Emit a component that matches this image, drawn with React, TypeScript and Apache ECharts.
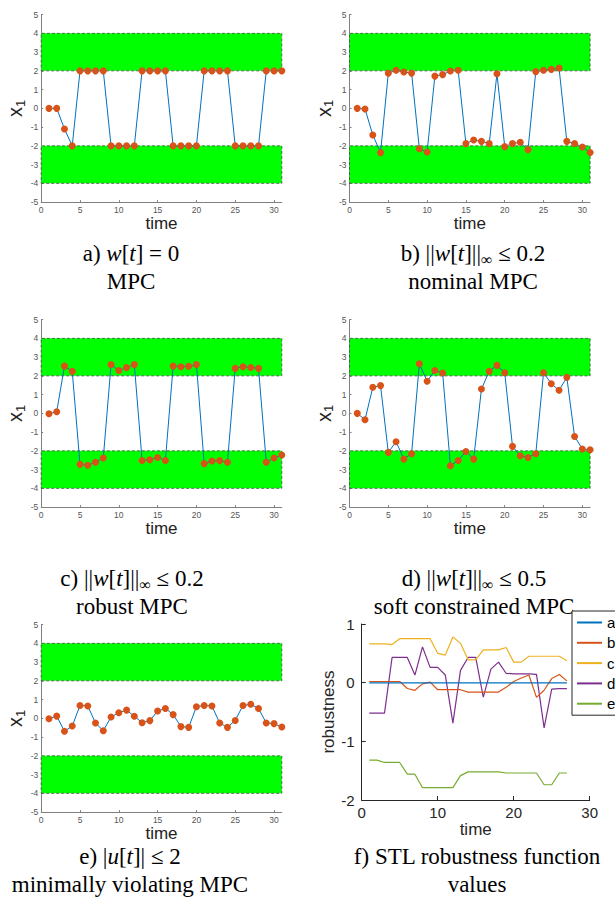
import React, { useEffect, useRef } from 'react';
import * as echarts from 'echarts';

// ---------- data ----------
const timeSteps = [1, 2, 3, 4, 5, 6, 7, 8, 9, 10, 11, 12, 13, 14, 15, 16, 17, 18, 19, 20, 21, 22, 23, 24, 25, 26, 27, 28, 29, 30, 31];

const x1MPC = [0, 0, -1.1, -2, 2, 2, 2, 2, -2, -2, -2, -2, 2, 2, 2, 2, -2, -2, -2, -2, 2, 2, 2, 2, -2, -2, -2, -2, 2, 2, 2];
const x1Nominal = [0, -0.03, -1.42, -2.36, 1.87, 2.03, 1.94, 1.88, -2.15, -2.33, 1.72, 1.8, 1.99, 2.03, -1.88, -1.69, -1.76, -1.88, 1.85, -2.04, -1.88, -1.81, -2.2, 1.96, 2.03, 2.08, 2.15, -1.76, -1.87, -2.06, -2.35];
const x1Robust = [-0.02, 0.09, 2.52, 2.24, -2.72, -2.77, -2.61, -2.38, 2.6, 2.29, 2.44, 2.6, -2.51, -2.47, -2.35, -2.51, 2.52, 2.49, 2.51, 2.6, -2.68, -2.54, -2.52, -2.61, 2.4, 2.49, 2.45, 2.4, -2.61, -2.38, -2.22];
const x1Soft = [0, -0.34, 1.39, 1.48, -2.08, -1.51, -2.44, -2.15, 2.65, 1.71, 2.29, 2.15, -2.79, -2.51, -2.03, -2.44, 1.3, 2.24, 2.56, 2.17, -1.76, -2.26, -2.35, -2.15, 2.17, 1.58, 1.23, 1.92, -1.23, -1.9, -1.94];
const x1MinViol = [-0.02, 0.12, -0.69, -0.41, 0.69, 0.66, -0.25, -0.66, 0.07, 0.3, 0.44, 0.11, -0.23, -0.12, 0.39, 0.53, 0.2, -0.44, -0.48, 0.62, 0.69, 0.66, -0.25, -0.48, -0.11, 0.69, 0.75, 0.53, -0.25, -0.28, -0.46];

const bandUpper = [2, 4];
const bandLower = [-4, -2];
const bandTime = [0, 31];

const robTime = [1, 2, 3, 4, 5, 6, 7, 8, 9, 10, 11, 12, 13, 14, 15, 16, 17, 18, 19, 20, 21, 22, 23, 24, 25, 26, 27];
const robA = [-0.005, -0.005, -0.005, -0.005, -0.005, -0.005, -0.005, -0.005, -0.005, -0.005, -0.005, -0.005, -0.005, -0.005, -0.005, -0.005, -0.005, -0.005, -0.005, -0.005, -0.005, -0.005, -0.005, -0.005, -0.005, -0.005, -0.005];
const robB = [0.02, 0.02, 0.02, 0.02, 0.02, -0.1, -0.13, -0.02, 0.01, -0.12, -0.12, -0.12, -0.12, -0.16, -0.16, -0.16, -0.16, -0.16, -0.08, 0.02, 0.08, 0.13, -0.25, -0.13, 0.07, 0.14, 0.03];
const robC = [0.66, 0.66, 0.66, 0.65, 0.75, 0.75, 0.75, 0.75, 0.75, 0.5, 0.47, 0.78, 0.67, 0.39, 0.39, 0.56, 0.56, 0.56, 0.6, 0.35, 0.35, 0.45, 0.45, 0.45, 0.45, 0.45, 0.375];
const robD = [-0.52, -0.52, -0.52, 0.43, 0.43, 0.43, 0.13, 0.61, 0.26, 0.26, 0.13, -0.69, 0.21, 0.43, 0.43, -0.245, 0.23, 0.35, 0.16, 0.15, 0.15, 0.15, 0.14, -0.77, -0.11, -0.1, -0.1];
const robE = [-1.32, -1.32, -1.36, -1.36, -1.36, -1.56, -1.56, -1.79, -1.79, -1.79, -1.79, -1.79, -1.585, -1.52, -1.52, -1.52, -1.52, -1.52, -1.54, -1.54, -1.54, -1.54, -1.54, -1.74, -1.74, -1.54, -1.54];
const robNames = ['a', 'b', 'c', 'd', 'e'];

const xTicksLabel = 'time';
const yLabelStates = 'x';
const yLabelSub = '1';
const robYLabel = 'robustness';

// ---------- layout / styles ----------
const panels = [
  { left: 41.2, top: 14.6, data: x1MPC },
  { left: 349.5, top: 14.6, data: x1Nominal },
  { left: 41.2, top: 319.6, data: x1Robust },
  { left: 349.5, top: 319.6, data: x1Soft },
  { left: 41.2, top: 624.6, data: x1MinViol },
];
const panelW = 240.6;
const panelH = 187.5;
const robGrid = { left: 361.7, top: 624, width: 228, height: 176 };
const matlabColors = ['#0072BD', '#D95319', '#EDB120', '#7E2F8E', '#77AC30'];

const serif = 'Liberation Serif';
const sans = 'Liberation Sans';
const CAP = 23;

const capRich = {
  n: { fontFamily: serif, fontSize: CAP, color: '#000', lineHeight: 28 },
  i: { fontFamily: serif, fontSize: CAP, fontStyle: 'italic', color: '#000', lineHeight: 28 },
  s: { fontFamily: serif, fontSize: 16, color: '#000', lineHeight: 16, padding: [12, 0, 0, 0] },
};

const captions = [
  { x: 131, y: 253, text: '{n|a) }{i|w}{n|[}{i|t}{n|] = 0}' },
  { x: 131, y: 281, text: '{n|MPC}' },
  { x: 473, y: 253, text: '{n|b) ||}{i|w}{n|[}{i|t}{n|]||}{s|∞}{n| ≤ 0.2}' },
  { x: 473, y: 281, text: '{n|nominal MPC}' },
  { x: 132, y: 578, text: '{n|c) ||}{i|w}{n|[}{i|t}{n|]||}{s|∞}{n| ≤ 0.2}' },
  { x: 132, y: 606, text: '{n|robust MPC}' },
  { x: 474, y: 578, text: '{n|d) ||}{i|w}{n|[}{i|t}{n|]||}{s|∞}{n| ≤ 0.5}' },
  { x: 474, y: 606, text: '{n|soft constrained MPC}' },
  { x: 130, y: 856, text: '{n|e) |}{i|u}{n|[}{i|t}{n|]| ≤ 2}' },
  { x: 130, y: 884, text: '{n|minimally violating MPC}' },
  { x: 477, y: 856, text: '{n|f) STL robustness function}' },
  { x: 477, y: 884, text: '{n|values}' },
];

function buildOption() {
  const grid: any[] = [];
  const xAxis: any[] = [];
  const yAxis: any[] = [];
  const series: any[] = [];

  panels.forEach((p, i) => {
    grid.push({ left: p.left, top: p.top, width: panelW, height: panelH, containLabel: false });
    xAxis.push({
      type: 'value', gridIndex: i, min: 0, max: 31, interval: 5,
      axisLine: { show: true, onZero: false, lineStyle: { color: '#808080', width: 1 } },
      axisTick: { show: true, inside: true, length: 2, lineStyle: { color: '#808080' } },
      splitLine: { show: false },
      axisLabel: {
        fontSize: 8.5, color: '#555', margin: 3, fontFamily: sans, showMaxLabel: false,
        formatter: (v: number) => (v % 5 === 0 ? String(v) : ''),
      },
      name: xTicksLabel, nameLocation: 'middle', nameGap: 8,
      nameTextStyle: { fontSize: 17, color: '#222', fontFamily: sans },
    });
    yAxis.push({
      type: 'value', gridIndex: i, min: -5, max: 5, interval: 1,
      axisLine: { show: true, onZero: false, lineStyle: { color: '#808080', width: 1 } },
      axisTick: { show: true, inside: true, length: 2, lineStyle: { color: '#808080' } },
      splitLine: { show: false },
      axisLabel: { fontSize: 8.5, color: '#555', margin: 3, fontFamily: sans },
      name: `{x|${yLabelStates}}{s|${yLabelSub}}`, nameLocation: 'middle', nameRotate: 90, nameGap: 12,
      nameTextStyle: {
        rich: {
          x: { fontSize: 20, fontFamily: sans, color: '#222', lineHeight: 24 },
          s: { fontSize: 13, fontFamily: sans, color: '#222', lineHeight: 13, padding: [10, 0, 0, 0] },
        },
      },
    });
    series.push({
      type: 'line', xAxisIndex: i, yAxisIndex: i, data: [], silent: true, z: 1,
      markArea: {
        silent: true,
        itemStyle: { color: '#00ff00', borderColor: '#4a4a4a', borderWidth: 0.8, borderType: [3, 2] },
        data: [
          [{ xAxis: bandTime[0], yAxis: bandUpper[0] }, { xAxis: bandTime[1], yAxis: bandUpper[1] }],
          [{ xAxis: bandTime[0], yAxis: bandLower[0] }, { xAxis: bandTime[1], yAxis: bandLower[1] }],
        ],
      },
    });
    series.push({
      type: 'line', xAxisIndex: i, yAxisIndex: i, z: 5, silent: true,
      data: timeSteps.map((t, j) => [t, p.data[j]]),
      symbol: 'circle', symbolSize: 7, showAllSymbol: true,
      itemStyle: { color: '#D95319', borderWidth: 0 },
      lineStyle: { color: '#0072BD', width: 1 },
      emphasis: { disabled: true },
    });
  });

  const fi = panels.length;
  grid.push({ ...robGrid, containLabel: false });
  xAxis.push({
    type: 'value', gridIndex: fi, min: 0, max: 30, interval: 10,
    axisLine: { show: true, onZero: false, lineStyle: { color: '#262626', width: 1 } },
    axisTick: { show: true, inside: true, length: 4, lineStyle: { color: '#262626' } },
    splitLine: { show: false },
    axisLabel: { fontSize: 15, color: '#262626', margin: 5, fontFamily: sans },
    name: xTicksLabel, nameLocation: 'middle', nameGap: 21,
    nameTextStyle: { fontSize: 17, color: '#262626', fontFamily: sans },
  });
  yAxis.push({
    type: 'value', gridIndex: fi, min: -2, max: 1, interval: 1,
    axisLine: { show: true, onZero: false, lineStyle: { color: '#262626', width: 1 } },
    axisTick: { show: true, inside: true, length: 4, lineStyle: { color: '#262626' } },
    splitLine: { show: false },
    axisLabel: { fontSize: 15, color: '#262626', margin: 7, fontFamily: sans },
    name: robYLabel, nameLocation: 'middle', nameRotate: 90, nameGap: 21,
    nameTextStyle: { fontSize: 17, color: '#262626', fontFamily: sans },
  });
  [robA, robB, robC, robD, robE].forEach((arr, k) => {
    series.push({
      type: 'line', name: robNames[k], xAxisIndex: fi, yAxisIndex: fi, z: 7 - k, silent: true,
      data: robTime.map((t, j) => [t, arr[j]]),
      symbol: 'none', lineStyle: { color: matlabColors[k], width: 1.2 }, itemStyle: { color: matlabColors[k] },
      emphasis: { disabled: true },
    });
  });

  return {
    animation: false,
    backgroundColor: '#fff',
    grid, xAxis, yAxis, series,
    legend: {
      data: robNames, orient: 'vertical', left: 572, top: 611,
      itemWidth: 25, itemHeight: 14, itemGap: 5.3, padding: [4, 6, 4, 4],
      borderColor: '#262626', borderWidth: 1, backgroundColor: '#fff',
      itemStyle: { opacity: 0 },
      textStyle: { fontSize: 15, color: '#000', fontFamily: sans },
      selectedMode: false,
    },
    graphic: captions.map((c) => ({
      type: 'text', x: c.x, y: c.y, silent: true,
      style: { text: c.text, rich: capRich, align: 'center', verticalAlign: 'middle', fontFamily: serif, fontSize: CAP, fill: '#000' },
    })),
  };
}

export default function App() {
  const ref = useRef<HTMLDivElement>(null);
  useEffect(() => {
    if (!ref.current) return;
    const chart = echarts.init(ref.current, undefined, { renderer: 'svg' });
    chart.setOption(buildOption() as any);
    return () => chart.dispose();
  }, []);
  return <div ref={ref} style={{ position: 'absolute', left: 0, top: 0, width: 615, height: 907 }} />;
}
